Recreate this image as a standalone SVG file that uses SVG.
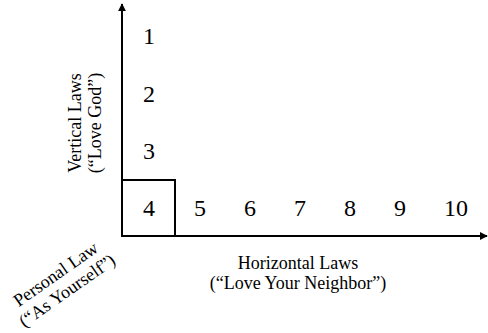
<svg xmlns="http://www.w3.org/2000/svg" width="488" height="333" viewBox="0 0 488 333">
<style>
text{font-family:"Liberation Serif","Times New Roman",serif;fill:#000}
.n{font-size:24px;text-anchor:middle}
.l{font-size:18px;text-anchor:middle}
.ax{stroke:#000;stroke-width:2;fill:none}
</style>
<defs>
<marker id="ah" viewBox="0 0 10 10" refX="9" refY="5" markerWidth="4" markerHeight="4" orient="auto" markerUnits="strokeWidth">
<path d="M0,0 L10,5 L0,10 Z" fill="#000"/>
</marker>
</defs>
<rect width="488" height="333" fill="#fff"/>
<g id="connectors">
<line class="ax" x1="122" y1="236" x2="122" y2="4" marker-end="url(#ah)"/>
<line class="ax" x1="121" y1="236" x2="487" y2="236" marker-end="url(#ah)"/>
</g>
<g id="box4"><rect class="ax" x="122" y="180" width="53" height="56"/></g>
<g id="numbers">
<text class="n" x="149" y="44">1</text>
<text class="n" x="149" y="102">2</text>
<text class="n" x="149" y="159">3</text>
<text class="n" x="149" y="216">4</text>
<text class="n" x="200" y="216">5</text>
<text class="n" x="250" y="216">6</text>
<text class="n" x="300" y="216">7</text>
<text class="n" x="350" y="216">8</text>
<text class="n" x="400" y="216">9</text>
<text class="n" x="456" y="216">10</text>
</g>
<g id="vertical-label" transform="translate(81,123) rotate(-90)">
<text class="l" x="0" y="0">Vertical Laws</text>
<text class="l" x="0" y="20">(“Love God”)</text>
</g>
<g id="horizontal-label">
<text class="l" x="298" y="269">Horizontal Laws</text>
<text class="l" x="298" y="289">(“Love Your Neighbor”)</text>
</g>
<g id="personal-label" transform="translate(59,279) rotate(-35)">
<text class="l" x="0" y="0">Personal Law</text>
<text class="l" x="0" y="20">(“As Yourself”)</text>
</g>
</svg>
